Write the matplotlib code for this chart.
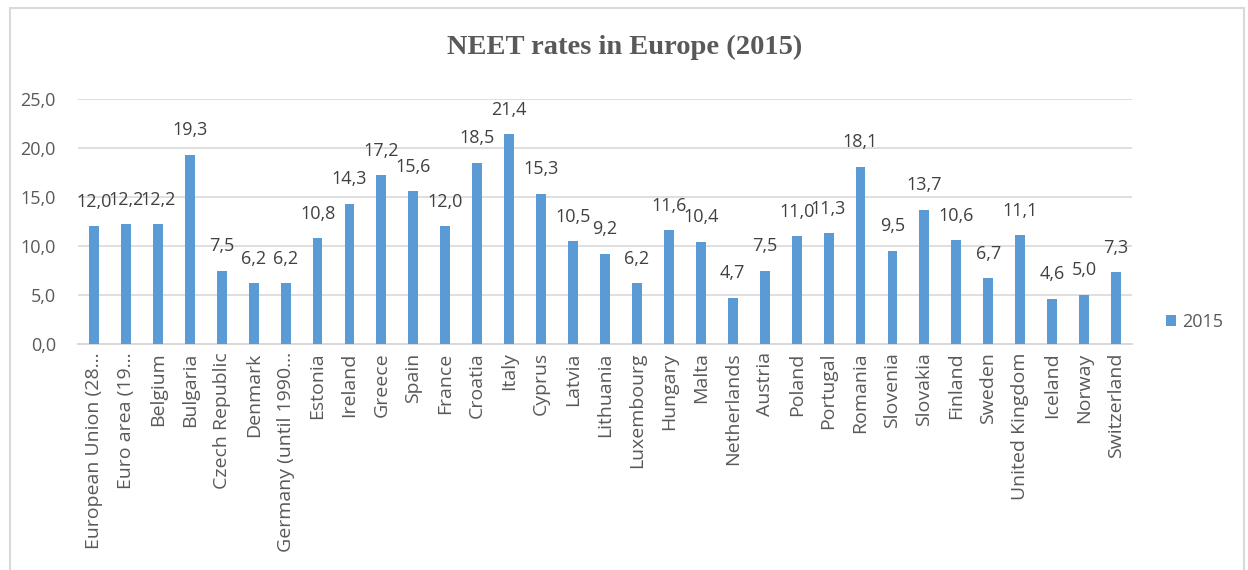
import matplotlib
matplotlib.use("Agg")
import matplotlib.pyplot as plt
from matplotlib.patches import Rectangle
from matplotlib.ticker import FuncFormatter

categories = ["European Union (28…", "Euro area (19…", "Belgium", "Bulgaria", "Czech Republic",
              "Denmark", "Germany (until 1990…", "Estonia", "Ireland", "Greece", "Spain", "France",
              "Croatia", "Italy", "Cyprus", "Latvia", "Lithuania", "Luxembourg", "Hungary", "Malta",
              "Netherlands", "Austria", "Poland", "Portugal", "Romania", "Slovenia", "Slovakia",
              "Finland", "Sweden", "United Kingdom", "Iceland", "Norway", "Switzerland"]
values = [12.0, 12.2, 12.2, 19.3, 7.5, 6.2, 6.2, 10.8, 14.3, 17.2, 15.6, 12.0, 18.5, 21.4, 15.3,
          10.5, 9.2, 6.2, 11.6, 10.4, 4.7, 7.5, 11.0, 11.3, 18.1, 9.5, 13.7, 10.6, 6.7, 11.1,
          4.6, 5.0, 7.3]
series_name = "2015"
title = "NEET rates in Europe (2015)"
yticks = [0, 5, 10, 15, 20, 25]

fig = plt.figure(figsize=(12.48, 5.7), dpi=100)
fig.patches.append(Rectangle((10/1248, -0.05), (1244-10)/1248, 1.05 - 8/570, transform=fig.transFigure,
                             fill=False, edgecolor="#d9d9d9", linewidth=1.5))
ax = fig.add_axes([78/1248, 1-344/570, (1132-78)/1248, (344-99)/570])

bar_color = "#5b9bd5"
font = "Open Sans"
x = list(range(len(categories)))
bars = ax.bar(x, values, width=0.31, color=bar_color, label=series_name, zorder=3)
for xi, v in zip(x, values):
    ax.text(xi, v + 2.0, f"{v:.1f}".replace(".", ","), ha="center", va="baseline",
            fontsize=13, color="#404040", family=font)

ax.set_ylim(0, 25)
ax.set_xlim(-0.5, len(categories) - 0.5)
ax.set_yticks(yticks)
ax.yaxis.set_major_formatter(FuncFormatter(lambda v, p: f"{v:.1f}".replace(".", ",")))
ax.grid(axis="y", color="#d9d9d9", linewidth=1.2, zorder=0)
for s in ["top", "right", "left"]:
    ax.spines[s].set_visible(False)
ax.spines["bottom"].set_color("#d9d9d9")
ax.spines["bottom"].set_linewidth(1.4)
ax.tick_params(axis="both", length=0, colors="#595959", labelsize=13)
ax.tick_params(axis="y", pad=16)
ax.tick_params(axis="x", pad=6, labelsize=14)
ax.set_xticks(x)
ax.set_xticklabels(categories, rotation=90, family=font)
for lab in ax.get_yticklabels():
    lab.set_family(font)

fig.text(625/1248, 1-47/570, title, ha="center", va="center", fontsize=20.5, fontweight="bold",
         family="Liberation Serif", color="#595959")

leg = fig.legend(handles=[bars], labels=[series_name], loc="center left",
                 bbox_to_anchor=(1150/1248, 1-322/570), frameon=False, handlelength=0.55,
                 handleheight=0.55, handletextpad=0.35, prop={"family": font, "size": 13})
for t in leg.get_texts():
    t.set_color("#595959")

fig.savefig("out.png", dpi=100)
